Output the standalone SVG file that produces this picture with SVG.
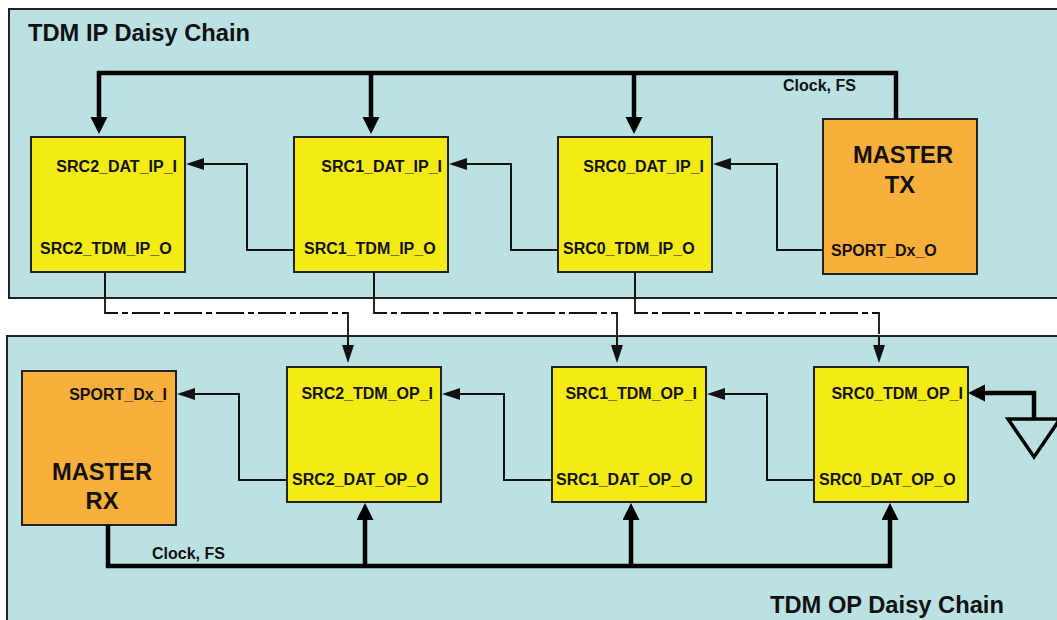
<svg xmlns="http://www.w3.org/2000/svg" width="1057" height="620" viewBox="0 0 1057 620">
<style>
.panel{fill:#BBE1E2;stroke:#222;stroke-width:2}
.src{fill:#F5EB14;stroke:#222;stroke-width:2}
.mst{fill:#F9AF3B;stroke:#222;stroke-width:2}
.lbl{font-family:"Liberation Sans",Arial,sans-serif;font-weight:bold;font-size:16px;fill:#111}
.big{font-family:"Liberation Sans",Arial,sans-serif;font-weight:bold;font-size:23.7px;fill:#111}
.thin{fill:none;stroke:#111;stroke-width:2}
.thick{fill:none;stroke:#000;stroke-width:4.5}
.dd{fill:none;stroke:#111;stroke-width:1.8;stroke-dasharray:28 4 6 4}
</style>
<defs>
<marker id="ta" markerUnits="userSpaceOnUse" markerWidth="20" markerHeight="14" refX="0" refY="6" orient="auto"><path d="M0,0 L18,6 L0,12 z" fill="#111"/></marker>
<marker id="tb" markerUnits="userSpaceOnUse" markerWidth="18" markerHeight="18" refX="0" refY="8.5" orient="auto"><path d="M0,0 L17,8.5 L0,17 z" fill="#000"/></marker>
</defs>
<rect width="1057" height="620" fill="#fff"/>
<g id="panel-ip">
<rect class="panel" x="9" y="9" width="1060" height="289"/>
<text class="big" x="28" y="41">TDM IP Daisy Chain</text>
</g>
<g id="panel-op">
<rect class="panel" x="7" y="336" width="1060" height="300"/>
<text class="big" x="770" y="613">TDM OP Daisy Chain</text>
</g>
<g id="src2-ip"><rect class="src" x="31" y="137" width="154" height="135"/>
<text class="lbl" x="177" y="172" text-anchor="end">SRC2_DAT_IP_I</text>
<text class="lbl" x="40" y="254">SRC2_TDM_IP_O</text></g>
<g id="src1-ip"><rect class="src" x="294" y="137" width="154" height="135"/>
<text class="lbl" x="442" y="172" text-anchor="end">SRC1_DAT_IP_I</text>
<text class="lbl" x="304" y="254">SRC1_TDM_IP_O</text></g>
<g id="src0-ip"><rect class="src" x="558" y="137" width="154" height="135"/>
<text class="lbl" x="704" y="172" text-anchor="end">SRC0_DAT_IP_I</text>
<text class="lbl" x="563" y="254">SRC0_TDM_IP_O</text></g>
<g id="master-tx"><rect class="mst" x="823" y="119" width="154" height="155"/>
<text class="big" x="903" y="163" text-anchor="middle">MASTER</text>
<text class="big" x="900" y="193" text-anchor="middle">TX</text>
<text class="lbl" x="831" y="256">SPORT_Dx_O</text></g>
<g id="master-rx"><rect class="mst" x="22" y="371" width="154" height="154"/>
<text class="lbl" x="167" y="400" text-anchor="end">SPORT_Dx_I</text>
<text class="big" x="102" y="480" text-anchor="middle">MASTER</text>
<text class="big" x="102" y="509" text-anchor="middle">RX</text></g>
<g id="src2-op"><rect class="src" x="287" y="367" width="154" height="135"/>
<text class="lbl" x="433" y="399" text-anchor="end">SRC2_TDM_OP_I</text>
<text class="lbl" x="292" y="485">SRC2_DAT_OP_O</text></g>
<g id="src1-op"><rect class="src" x="552" y="367" width="154" height="135"/>
<text class="lbl" x="697" y="399" text-anchor="end">SRC1_TDM_OP_I</text>
<text class="lbl" x="556" y="485">SRC1_DAT_OP_O</text></g>
<g id="src0-op"><rect class="src" x="814" y="367" width="154" height="135"/>
<text class="lbl" x="963" y="399" text-anchor="end">SRC0_TDM_OP_I</text>
<text class="lbl" x="819" y="485">SRC0_DAT_OP_O</text></g>
<g id="ground"><polygon points="1008,419 1060,419 1034,457" fill="#BBE1E2" stroke="#000" stroke-width="3.5"/></g>
<g id="connectors">
<path class="thin" d="M294,250 H247 V164 H204" marker-end="url(#ta)"/>
<path class="thin" d="M558,250 H511 V164 H467" marker-end="url(#ta)"/>
<path class="thin" d="M823,250 H777 V164 H731" marker-end="url(#ta)"/>
<path class="thin" d="M287,480 H239 V394 H195" marker-end="url(#ta)"/>
<path class="thin" d="M552,480 H504 V394 H460" marker-end="url(#ta)"/>
<path class="thin" d="M814,480 H767 V394 H725" marker-end="url(#ta)"/>
<path class="thick" d="M1034,420 V393 H985" marker-end="url(#tb)"/>
<path class="thick" d="M896,119 V73 H99 V117" marker-end="url(#tb)"/>
<path class="thick" d="M371,73 V117" marker-end="url(#tb)"/>
<path class="thick" d="M634,73 V117" marker-end="url(#tb)"/>
<text class="lbl" x="783" y="91">Clock, FS</text>
<path class="thick" d="M108,525 V566 H890 V520" marker-end="url(#tb)"/>
<path class="thick" d="M365,566 V520" marker-end="url(#tb)"/>
<path class="thick" d="M631,566 V520" marker-end="url(#tb)"/>
<text class="lbl" x="152" y="559">Clock, FS</text>
<path class="thin" d="M105,272 V298"/>
<path class="dd" d="M105,298 V313 H348 V336"/>
<path class="thin" d="M348,336 V345" marker-end="url(#ta)"/>
<path class="thin" d="M374,272 V298"/>
<path class="dd" d="M374,298 V313 H617 V336"/>
<path class="thin" d="M617,336 V345" marker-end="url(#ta)"/>
<path class="thin" d="M635,272 V298"/>
<path class="dd" d="M635,298 V313 H879 V336"/>
<path class="thin" d="M879,336 V345" marker-end="url(#ta)"/>
</g>
</svg>
